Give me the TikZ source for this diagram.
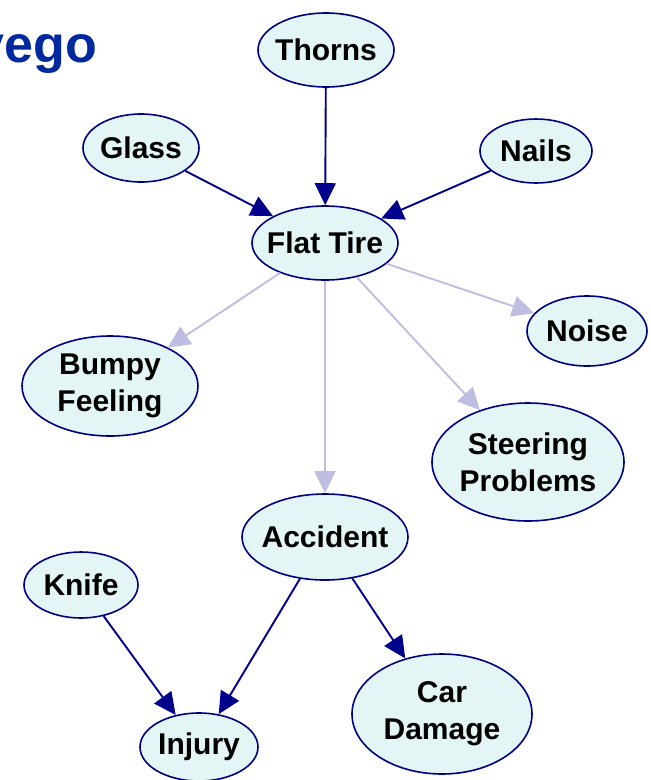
\documentclass[tikz,border=0pt]{standalone}
\usepackage{fontspec}
\setmainfont{Liberation Sans}
\usetikzlibrary{shapes.geometric,arrows.meta}
\definecolor{nodefill}{RGB}{227,245,245}
\definecolor{nodeline}{RGB}{0,0,128}
\definecolor{darkedge}{RGB}{0,0,140}
\definecolor{lightedge}{RGB}{190,190,225}
\definecolor{titleblue}{RGB}{0,40,160}
\tikzset{
	var/.style={ellipse,draw=nodeline,fill=nodefill,line width=1.6pt,inner sep=-12pt,
		align=center,font=\fontsize{30}{37}\selectfont\bfseries},
	strong/.style={draw=darkedge,line width=1.9pt,-{Triangle[length=22pt,width=21pt]}},
	weak/.style={draw=lightedge,line width=1.9pt,-{Triangle[length=22pt,width=21pt]}},
}

\begin{document}
\begin{tikzpicture}[x=1pt,y=-1pt]
		\useasboundingbox (0,0) rectangle (651,780);
		\node[anchor=base east,text=titleblue,font=\fontsize{52}{60}\selectfont\bfseries,inner sep=0pt] (title) at (97,62) {yego};
		%
		\node[var,minimum width=136pt,minimum height=74pt] (thorns) at (326,50) {Thorns};
		\node[var,minimum width=116pt,minimum height=68pt] (glass) at (141,148) {Glass};
		\node[var,minimum width=112pt,minimum height=64pt] (nails) at (536,151) {Nails};
		\node[var,minimum width=146pt,minimum height=74pt] (flat) at (325,243) {Flat Tire};
		\node[var,minimum width=120pt,minimum height=70pt] (noise) at (587,331) {Noise};
		\node[var,minimum width=176pt,minimum height=100pt] (bumpy) at (110,386) {Bumpy\\Feeling};
		\node[var,minimum width=192pt,minimum height=118pt] (steer) at (528,462) {Steering\\Problems};
		\node[var,minimum width=166pt,minimum height=86pt] (accident) at (325,537) {Accident};
		\node[var,minimum width=114pt,minimum height=66pt] (knife) at (81,585) {Knife};
		\node[var,minimum width=180pt,minimum height=120pt] (damage) at (442,714) {Car\\Damage};
		\node[var,minimum width=118pt,minimum height=68pt] (injury) at (199,747) {Injury};
		%
		\draw[strong] (thorns) -- (flat);
		\draw[strong] (glass) -- (flat);
		\draw[strong] (nails) -- (flat);
		\draw[weak] (flat) -- (bumpy);
		\draw[weak] (flat) -- (accident);
		\draw[weak] (flat) -- (steer);
		\draw[weak] (flat) -- (noise);
		\draw[strong] (accident) -- (injury);
		\draw[strong] (accident) -- (damage);
		\draw[strong] (knife) -- (injury);
	\end{tikzpicture}
\end{document}
